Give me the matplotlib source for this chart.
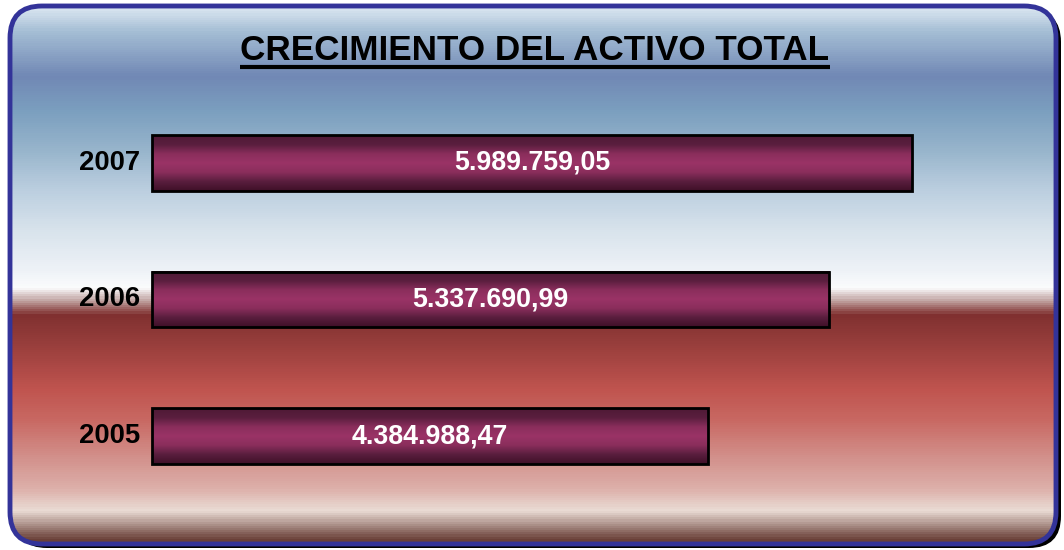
import numpy as np
import matplotlib.pyplot as plt
from matplotlib.colors import LinearSegmentedColormap
from matplotlib.patches import FancyBboxPatch

plt.rcParams['font.family'] = ['Liberation Sans', 'DejaVu Sans']

anios = ['2005', '2006', '2007']
valores = [4384988.47, 5337690.99, 5989759.05]
etiquetas = ['4.384.988,47', '5.337.690,99', '5.989.759,05']
titulo = 'CRECIMIENTO DEL ACTIVO TOTAL'

W, H = 1064, 550
fig = plt.figure(figsize=(W / 100, H / 100), dpi=100)
fig.patch.set_facecolor('white')

# fondo con degradado, en pixeles
fondo = fig.add_axes([0, 0, 1, 1])
fondo.set_xlim(0, W)
fondo.set_ylim(H, 0)
fondo.axis('off')

paradas = [
    (0, '#d5e2ee'), (9, '#d5e2ee'), (30, '#a5bed5'), (75, '#7188b5'),
    (110, '#7b9fbf'), (150, '#98b5cc'), (190, '#bccfe0'), (230, '#d8e3ec'),
    (270, '#eef2f7'), (288, '#fbfcfd'), (300, '#c4a8a6'), (315, '#803030'),
    (340, '#943c3a'), (390, '#c0544f'), (420, '#c86862'), (460, '#d3928d'),
    (490, '#ddb0aa'), (512, '#eadcd5'), (541, '#6a4038'), (550, '#6a4038'),
]
cmap_fondo = LinearSegmentedColormap.from_list(
    'fondo', [(p / H, c) for p, c in paradas])
grad = np.linspace(0, 1, 550).reshape(-1, 1)

sombra = FancyBboxPatch((15, 10), 1046, 538, boxstyle='round,pad=0,rounding_size=32',
                        facecolor='black', edgecolor='none', zorder=1)
fondo.add_patch(sombra)
marco = FancyBboxPatch((10, 6), 1046, 538, boxstyle='round,pad=0,rounding_size=32',
                       facecolor='none', edgecolor='#333399', linewidth=3.5, zorder=3)
img = fondo.imshow(grad, cmap=cmap_fondo, extent=(0, W, H, 0), aspect='auto', zorder=2)
base = FancyBboxPatch((10, 6), 1046, 538, boxstyle='round,pad=0,rounding_size=32',
                      facecolor='none', edgecolor='none')
fondo.add_patch(base)
img.set_clip_path(base)
fondo.add_patch(marco)

fondo.text(535, 60, titulo, ha='center', va='baseline', fontsize=25.3,
           fontweight='bold', color='black', zorder=4)
fondo.plot([240, 830], [67, 67], color='black', linewidth=3, zorder=4,
           solid_capstyle='butt')

# barras
x0, x1 = 152, 912
ax = fig.add_axes([x0 / W, 1 - 504.25 / H, (x1 - x0) / W, 409.5 / H])
ax.axis('off')
ax.patch.set_alpha(0)

alto = 0.41
cmap_barra = LinearSegmentedColormap.from_list(
    'barra', ['#3f1028', '#5a1e3e', '#8a2e5c', '#9a3366', '#8a2e5c', '#5a1e3e', '#4f1a36'])
g = np.linspace(0, 1, 100).reshape(-1, 1)
for i, v in enumerate(valores):
    ax.imshow(g, cmap=cmap_barra, extent=(0, v, i - alto / 2, i + alto / 2),
              aspect='auto', origin='lower', zorder=2)
ax.barh(range(len(valores)), valores, height=alto, facecolor='none',
        edgecolor='black', linewidth=2, zorder=3, clip_on=False)
ax.set_xlim(0, max(valores))
ax.set_ylim(-0.5, 2.5)

for i, v in enumerate(valores):
    ax.text(v / 2, i, etiquetas[i], ha='center', va='center', color='white',
            fontsize=19.3, fontweight='bold', zorder=4)
    ax.text(-max(valores) * 0.016, i, anios[i], ha='right', va='center',
            color='black', fontsize=19.8, fontweight='bold', zorder=4)

fig.savefig('out.png', dpi=100)
